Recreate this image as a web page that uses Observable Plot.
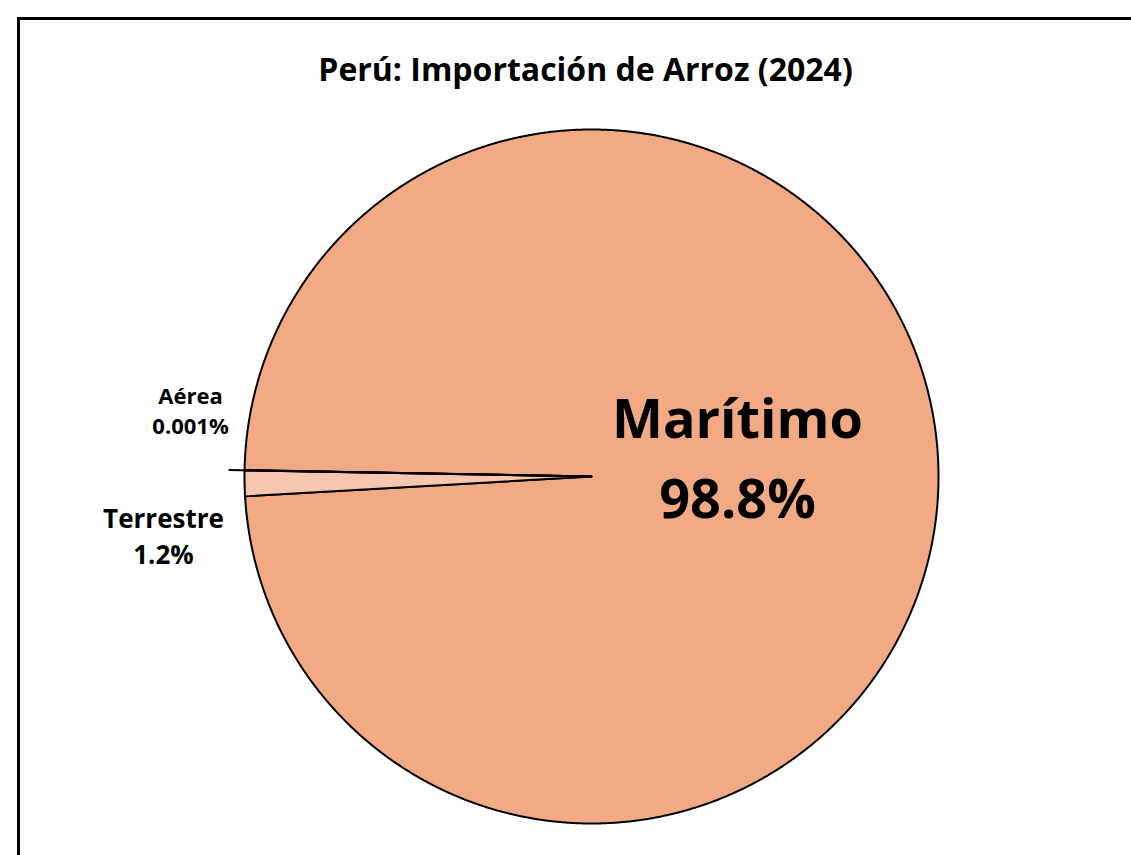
<!DOCTYPE html>
<html>
<head>
<meta charset="utf-8">
<script src="https://cdn.jsdelivr.net/npm/d3@7"></script>
<script src="https://cdn.jsdelivr.net/npm/@observablehq/plot@0.6"></script>
<style>
  html, body { margin: 0; padding: 0; overflow: hidden; background: #fff; }
  #chart svg { display: block; max-width: none !important; height: auto; }
</style>
</head>
<body>
<div id="chart"></div>
<script>
// ---- data ----
const title = "Perú: Importación de Arroz (2024)";
const categories = ["Marítimo", "Terrestre", "Aérea"];
const shares = [98.799, 1.2, 0.001];           // percent of imports
const shareLabels = ["98.8%", "1.2%", "0.001%"];
const sliceColors = ["#F2AA84", "#F6C7AE", "#F9DCCB"];

// ---- layout ----
const W = 1160, H = 880;           // svg larger than viewport: frame runs off right/bottom
const ML = 18, MT = 18;            // frame offset
const cx = 591, cy = 476, R = 347; // pie centre & radius in px
const X = px => (px - cx) / R;
const Y = py => (cy - py) / R;
const deg = Math.PI / 180;

// pie angles (clockwise from 12 o'clock)
const start = 271.04 * deg;
const arcs = d3.pie().sort(null).startAngle(start).endAngle(start + 2 * Math.PI)(shares);

function slicePoints(a, i) {
  const pts = [{x: 0, y: 0, name: categories[i]}];
  const n = Math.max(2, Math.ceil((a.endAngle - a.startAngle) / 0.004));
  for (let k = 0; k <= n; k++) {
    const t = a.startAngle + (a.endAngle - a.startAngle) * k / n;
    pts.push({x: Math.sin(t), y: Math.cos(t), name: categories[i]});
  }
  return pts;
}

const aereaArc = arcs[2];
const aereaMid = (aereaArc.startAngle + aereaArc.endAngle) / 2;
const leader = [{x1: 0, y1: 0, x2: 1.046 * Math.sin(aereaMid), y2: 1.046 * Math.cos(aereaMid)}];

const labelStyle = [
  {i: 0, x: X(737), y: Y(517), size: 54, lh: 80 / 54},
  {i: 1, x: X(163), y: Y(563), size: 26, lh: 36 / 26},
  {i: 2, x: X(190), y: Y(433), size: 22, lh: 30 / 22}
];

const font = "'Open Sans', Lato, sans-serif";

const marks = [
  Plot.frame({stroke: "black", strokeWidth: 3}),
  ...arcs.map((a, i) => Plot.line(slicePoints(a, i), {
    x: "x", y: "y", curve: "linear-closed",
    fill: sliceColors[i], stroke: "black", strokeWidth: 2, strokeLinejoin: "round"
  })),
  Plot.link(leader, {x1: "x1", y1: "y1", x2: "x2", y2: "y2", stroke: "black", strokeWidth: 2}),
  ...labelStyle.map(s => Plot.text([categories[s.i] + "\n" + shareLabels[s.i]], {
    x: s.x, y: s.y, text: d => d, lineAnchor: "bottom", lineHeight: s.lh,
    fontSize: s.size, fontWeight: "bold", fontFamily: font, fill: "black"
  })),
  Plot.text([title], {
    x: X(585), y: Y(80), text: d => d, lineAnchor: "bottom",
    fontSize: 32, fontWeight: "bold", fontFamily: font, fill: "black"
  })
];

const chart = Plot.plot({
  width: W, height: H,
  marginLeft: ML, marginTop: MT, marginRight: 0, marginBottom: 0,
  x: {domain: [X(ML), X(W)], axis: null},
  y: {domain: [Y(H), Y(MT)], axis: null},
  style: {background: "white", fontFamily: font},
  marks
});
document.getElementById("chart").appendChild(chart);
</script>
</body>
</html>
